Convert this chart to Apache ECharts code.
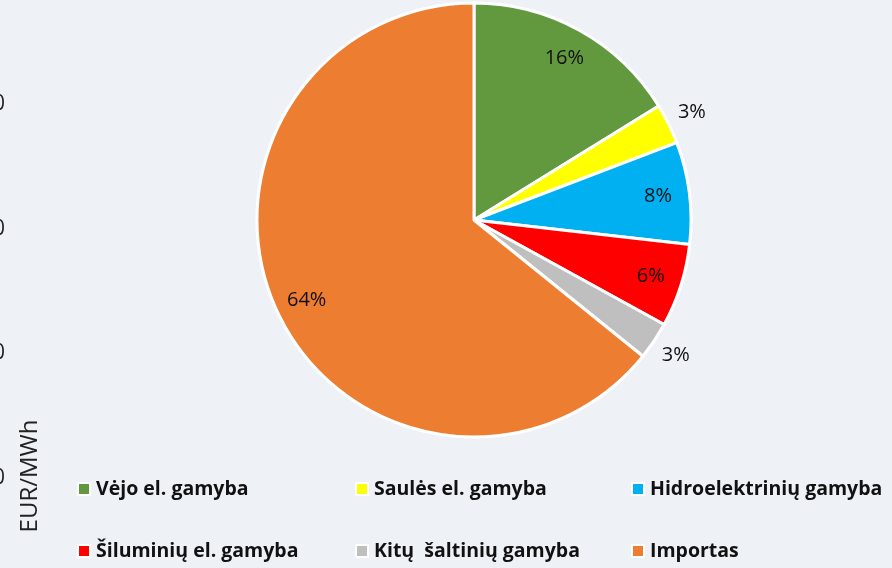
<!DOCTYPE html>
<html>
<head>
<meta charset="utf-8">
<style>
  html, body { margin: 0; padding: 0; background: #eef2f7; }
  #chart { width: 892px; height: 568px; }
</style>
<script src="https://cdn.jsdelivr.net/npm/echarts@6/dist/echarts.min.js"></script>
</head>
<body>
<div id="chart"></div>
<script>
// gamybos šaltinių dalys, %
const categories = ['Vėjo el. gamyba', 'Saulės el. gamyba', 'Hidroelektrinių gamyba',
  'Šiluminių el. gamyba', 'Kitų  šaltinių gamyba', 'Importas'];
const shares = [16.2, 3.0, 7.6, 6.2, 2.8, 64.2];
const colors = ['#62993e', '#ffff00', '#00b0f0', '#ff0000', '#bfbfbf', '#ed7d31'];
// labels drawn outside the slice
const outsideLabels = ['Saulės el. gamyba', 'Kitų  šaltinių gamyba'];
// cut-off axis from the neighbouring chart
const axisTicks = ['0', '0', '0', '0'];
const axisTickY = [104, 229, 353, 478];

// legend grid: 3 columns x 2 rows
const legendLeft = [77, 355, 631];
const legendTop = [479, 541];

const chart = echarts.init(document.getElementById('chart'));

const pieData = categories.map((name, i) => ({
  name: name,
  value: shares[i],
  itemStyle: { color: colors[i] }
}));

const labelFont = { fontFamily: 'Open Sans', fontSize: 20, color: '#111' };
const pctFmt = (p) => Math.round(p.percent) + '%';

function labelSeries(radius, showFor) {
  return {
    type: 'pie',
    center: [474, 220],
    radius: radius,
    startAngle: 90,
    silent: true,
    avoidLabelOverlap: false,
    itemStyle: { color: 'transparent', borderWidth: 0 },
    labelLine: { show: false },
    data: categories.map((name, i) => ({
      name: name,
      value: shares[i],
      itemStyle: { color: 'transparent' },
      label: { show: showFor(name) }
    })),
    label: Object.assign({ position: 'inside', formatter: pctFmt }, labelFont),
    emphasis: { disabled: true }
  };
}

const legends = categories.map((name, i) => ({
  left: legendLeft[i % 3],
  top: legendTop[Math.floor(i / 3)],
  padding: 0,
  itemWidth: 12,
  itemHeight: 12,
  icon: 'rect',
  itemStyle: { borderColor: '#fff', borderWidth: 2 },
  textStyle: { fontFamily: 'Open Sans', fontWeight: 'bold', fontSize: 19.5, color: '#111', padding: [0, 0, 0, 1] },
  data: [name]
}));

chart.setOption({
  backgroundColor: '#eef2f7',
  animation: false,
  legend: legends,
  graphic: axisTicks.map((t, i) => ({
    type: 'text',
    x: 5,
    y: axisTickY[i],
    style: { text: t, textAlign: 'right', textVerticalAlign: 'middle', font: '21px "Open Sans"', fill: '#222' }
  })).concat([{
    type: 'text',
    x: 30,
    y: 476,
    rotation: Math.PI / 2,
    style: { text: 'EUR/MWh', textAlign: 'center', textVerticalAlign: 'middle', font: '24px "Open Sans"', fill: '#222' }
  }]),
  series: [
    {
      type: 'pie',
      center: [474, 220],
      radius: 217,
      startAngle: 90,
      silent: true,
      itemStyle: { borderColor: '#fff', borderWidth: 3 },
      label: { show: false },
      labelLine: { show: false },
      data: pieData
    },
    labelSeries([146, 219], (n) => outsideLabels.indexOf(n) < 0),
    labelSeries([219, 261], (n) => outsideLabels.indexOf(n) >= 0)
  ]
});
</script>
</body>
</html>
